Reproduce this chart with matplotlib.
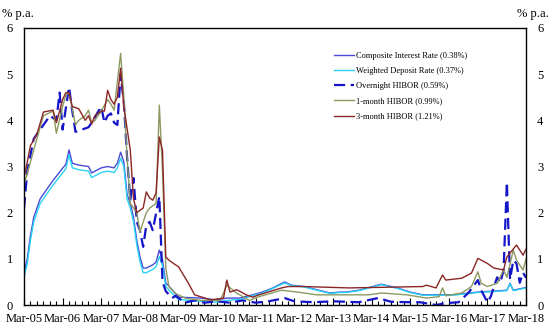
import matplotlib
matplotlib.use('Agg')
import matplotlib.pyplot as plt
import matplotlib.dates as mdates
import pandas as pd

plt.rcParams['font.family'] = ['Liberation Serif', 'DejaVu Serif']

# months after Mar-2005 and rates (% p.a.)
comp_m = [0, 1, 2, 3, 4, 5, 7, 9, 11, 13, 14, 15, 17, 20, 21, 24, 26, 28, 29, 30, 31, 32, 33, 34, 35, 36, 37,
          38, 40, 41, 42, 43, 44, 46, 48, 55, 60, 63, 67, 71, 74, 77, 81, 83, 87, 91, 95, 98, 100, 104, 111,
          116, 120, 124, 129, 133, 141, 150, 151, 152, 156]
comp_v = [0.7, 1.0, 1.5, 1.9, 2.1, 2.3, 2.5, 2.7, 2.88, 3.05, 3.36, 3.07, 3.03, 3.0, 2.86, 2.97, 3.0, 2.97, 3.07,
          3.31, 3.1, 2.4, 2.2, 1.9, 1.4, 1.05, 0.8, 0.8, 0.87, 0.93, 1.19, 0.97, 0.48, 0.33, 0.17, 0.15, 0.11,
          0.15, 0.15, 0.22, 0.28, 0.36, 0.5, 0.43, 0.4, 0.33, 0.26, 0.28, 0.28, 0.32, 0.45, 0.37, 0.28, 0.22,
          0.22, 0.22, 0.28, 0.32, 0.47, 0.32, 0.38]

dep_m = comp_m
dep_v = [0.6, 0.9, 1.4, 1.8, 2.0, 2.2, 2.4, 2.6, 2.78, 2.95, 3.25, 2.97, 2.93, 2.9, 2.76, 2.87, 2.9, 2.87, 2.97,
         3.18, 3.0, 2.3, 2.1, 1.8, 1.3, 0.95, 0.7, 0.7, 0.77, 0.83, 1.05, 0.85, 0.4, 0.25, 0.12, 0.08, 0.06,
         0.1, 0.12, 0.2, 0.26, 0.35, 0.48, 0.42, 0.39, 0.32, 0.25, 0.27, 0.27, 0.31, 0.44, 0.36, 0.27, 0.21,
         0.21, 0.21, 0.27, 0.31, 0.46, 0.31, 0.37]

on_m = [0, 1, 3, 4, 6, 8, 10, 11, 12, 14, 15, 16, 18, 20, 21, 24, 25, 26, 27, 28, 29, 30, 31, 32, 33, 34, 35,
        36, 37, 38, 39, 40, 42, 43, 44, 46, 47, 50, 53, 56, 60, 64, 68, 72, 76, 81, 84, 90, 96, 104, 110, 114,
        120, 123, 128, 131, 135, 138, 141, 142, 144, 145, 147, 148, 149, 150, 151, 152, 153, 154, 155, 156]
on_v = [2.1, 2.9, 3.6, 3.7, 3.9, 4.1, 4.0, 4.6, 3.8, 4.72, 4.2, 3.75, 3.8, 3.85, 3.95, 4.3, 3.95, 4.1, 4.15,
        3.95, 3.9, 5.0, 4.4, 3.2, 2.27, 2.75, 1.8, 1.62, 1.26, 1.73, 1.8, 1.62, 2.35, 0.5, 0.3, 0.15, 0.2,
        0.05, 0.1, 0.05, 0.08, 0.05, 0.1, 0.05, 0.08, 0.15, 0.08, 0.06, 0.08, 0.06, 0.15, 0.07, 0.06, 0.06,
        0.0, 0.04, 0.06, 0.26, 0.54, 0.32, 0.06, 0.18, 0.6, 0.48, 0.76, 2.66, 0.55, 0.97, 0.9, 0.48, 0.7, 0.59]

m1_m = [0, 2, 4, 6, 9, 10, 12, 13, 14, 16, 17, 19, 20, 21, 22, 24, 26, 27, 28, 30, 31, 32, 33, 35, 36, 38, 39,
        41, 42, 43, 44, 45, 47, 50, 55, 61, 63, 66, 70, 73, 80, 85, 91, 101, 107, 111, 119, 125, 129, 130,
        131, 136, 139, 141, 142, 144, 147, 149, 150, 152, 153, 155, 156]
m1_v = [2.6, 3.1, 3.6, 4.1, 4.2, 3.72, 4.3, 4.55, 4.6, 3.9, 4.0, 4.1, 4.22, 3.95, 4.0, 4.2, 4.45, 4.35, 4.22,
        5.45, 4.5, 3.2, 2.2, 2.0, 1.58, 2.0, 2.1, 2.2, 4.33, 2.9, 0.8, 0.4, 0.25, 0.15, 0.1, 0.1, 0.43, 0.26,
        0.1, 0.18, 0.32, 0.28, 0.22, 0.22, 0.22, 0.26, 0.22, 0.15, 0.18, 0.37, 0.2, 0.26, 0.4, 0.72, 0.47,
        0.4, 0.47, 0.76, 0.6, 1.19, 0.97, 0.76, 0.99]

m3_m = [0, 1, 2, 4, 6, 9, 10, 11, 12, 13, 14, 15, 17, 19, 20, 21, 22, 24, 25, 26, 27, 28, 29, 30, 31, 33, 34,
        35, 36, 37, 38, 39, 40, 41, 42, 43, 44, 45, 47, 48, 51, 53, 58, 62, 63, 64, 66, 67, 69, 71, 73, 80,
        82, 87, 101, 124, 125, 128, 130, 131, 136, 139, 141, 144, 146, 149, 150, 153, 155, 156]
m3_v = [2.75, 3.1, 3.45, 3.7, 4.18, 4.22, 3.95, 4.2, 4.45, 4.6, 4.6, 4.3, 4.25, 4.0, 4.1, 3.92, 4.1, 4.2, 4.2,
        4.65, 4.45, 4.35, 4.5, 5.13, 4.3, 3.36, 2.3, 2.0, 2.05, 2.1, 2.45, 2.32, 2.27, 2.43, 3.64, 3.35, 1.04,
        0.97, 0.87, 0.83, 0.48, 0.22, 0.11, 0.15, 0.54, 0.28, 0.33, 0.3, 0.22, 0.17, 0.22, 0.37, 0.4, 0.4,
        0.37, 0.4, 0.43, 0.37, 0.65, 0.54, 0.58, 0.69, 1.01, 0.9, 0.8, 0.76, 1.04, 1.3, 1.08, 1.21]

start = pd.Timestamp('2005-03-01')


def to_dates(months):
    return [start + pd.DateOffset(months=m) for m in months]


fig = plt.figure(figsize=(5.51, 3.31), dpi=100)
ax = fig.add_axes([24 / 551, 1 - 305 / 331, 502 / 551, 277 / 331])

ax.plot(to_dates(comp_m), comp_v, color='#4a4ad8', lw=1.0, label='Composite Interest Rate (0.38%)')
ax.plot(to_dates(dep_m), dep_v, color='#2ad4f2', lw=1.0, label='Weighted Deposit Rate (0.37%)')
ax.plot(to_dates(on_m), on_v, color='#1414c8', lw=1.6, dashes=(5, 2.5), label='Overnight HIBOR (0.59%)')
ax.plot(to_dates(m1_m), m1_v, color='#8c9a62', lw=1.0, label='1-month HIBOR (0.99%)')
ax.plot(to_dates(m3_m), m3_v, color='#8b2626', lw=1.0, label='3-month HIBOR (1.21%)')

ax.set_xlim(start, pd.Timestamp('2018-03-01'))
ax.set_ylim(0, 6)

ax.xaxis.set_major_locator(mdates.MonthLocator(bymonth=3))
ax.xaxis.set_minor_locator(mdates.MonthLocator(bymonth=[1, 5, 7, 9, 11]))
ax.xaxis.set_major_formatter(mdates.DateFormatter('%b-%y'))
ax.tick_params(axis='x', which='major', direction='in', length=5, width=0.8, labelsize=9, pad=5.5)
ax.tick_params(axis='x', which='minor', direction='in', length=3, width=0.8)

ax.set_yticks(range(0, 7))
ax.tick_params(axis='y', which='major', left=True, right=True, labelleft=True, labelright=True,
               direction='out', length=0, labelsize=9, pad=8)

for s in ax.spines.values():
    s.set_linewidth(1.0)

fig.text(2 / 551, 1 - 14 / 331, '% p.a.', fontsize=9, va='center', ha='left')
fig.text(549 / 551, 1 - 14 / 331, '% p.a.', fontsize=9, va='center', ha='right')

ax.legend(loc='upper left', bbox_to_anchor=(0.61, 0.925), frameon=False, fontsize=6,
          handlelength=2.4, labelspacing=0.85, borderaxespad=0, handletextpad=0.3)

fig.savefig('out.png', dpi=100)
